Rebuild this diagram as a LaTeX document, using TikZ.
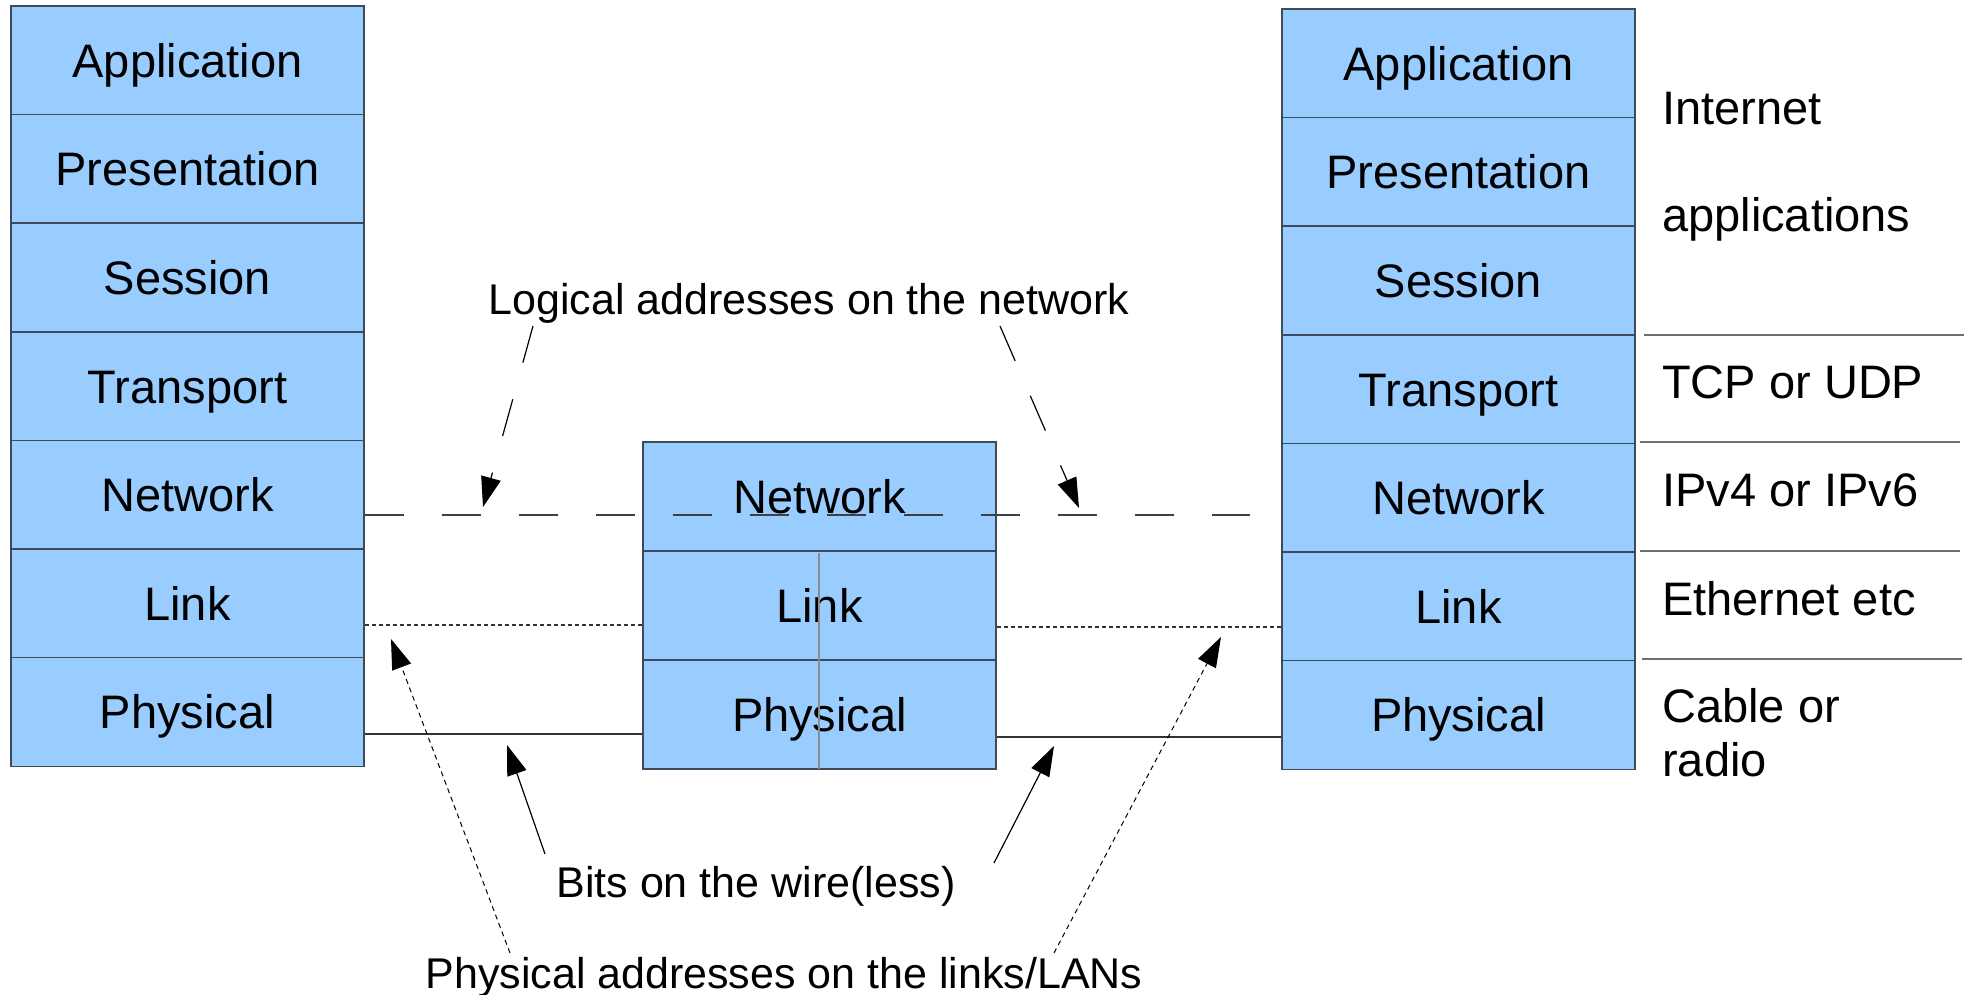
\documentclass[tikz,border=0pt]{standalone}
\usepackage{fontspec}
\setmainfont{Liberation Sans}
\usetikzlibrary{arrows.meta,calc}
\definecolor{layerfill}{HTML}{99CCFF}
\definecolor{layerdraw}{HTML}{3F4A58}
\definecolor{sepgray}{HTML}{707070}
\begin{document}
\begin{tikzpicture}[x=1pt,y=-1pt,
  layer/.style={draw=layerdraw,fill=layerfill,line width=1.4pt,minimum width=353pt,minimum height=108.6pt,inner sep=0pt,text height=34pt,text depth=0pt,font=\fontsize{47}{56}\selectfont},
  midlayer/.style={layer,minimum height=109pt},
  ann/.style={font=\fontsize{43}{52}\selectfont,inner sep=0pt,text height=31pt,text depth=0pt},
  side/.style={font=\fontsize{47}{56}\selectfont,anchor=west,inner sep=0pt,text height=34pt,text depth=0pt},
  sepline/.style={draw=sepgray,line width=1.5pt},
  tip/.style={-{Triangle[length=30pt,width=20pt]}},
  netline/.style={draw=black!75,line width=1.4pt,dash pattern=on 39pt off 38pt},
  linkline/.style={draw=black!80,line width=1.1pt,dash pattern=on 4pt off 3pt},
  physline/.style={draw=black!80,line width=1.4pt},
]
\useasboundingbox (0,0) rectangle (1973,995);

% left stack
\node[layer] (L1) at (187.5,60.3) {Application};
\node[layer] (L2) at (187.5,168.9) {Presentation};
\node[layer] (L3) at (187.5,277.5) {Session};
\node[layer] (L4) at (187.5,386.1) {Transport};
\node[layer] (L5) at (187.5,494.7) {Network};
\node[layer] (L6) at (187.5,603.3) {Link};
\node[layer] (L7) at (187.5,711.9) {Physical};

% middle stack
\node[midlayer] (M1) at (819.5,496.5) {Network};
\node[midlayer] (M2) at (819.5,605.5) {Link};
\node[midlayer] (M3) at (819.5,714.5) {Physical};
\draw[draw=black!45,line width=1.3pt] (819,553) -- (819,769);

% right stack
\node[layer] (R1) at (1458.5,63.3) {Application};
\node[layer] (R2) at (1458.5,171.9) {Presentation};
\node[layer] (R3) at (1458.5,280.5) {Session};
\node[layer] (R4) at (1458.5,389.1) {Transport};
\node[layer] (R5) at (1458.5,497.7) {Network};
\node[layer] (R6) at (1458.5,606.3) {Link};
\node[layer] (R7) at (1458.5,714.9) {Physical};

% right side labels
\node[side] (s1) at (1662,108) {Internet};
\node[side] (s2) at (1662,215) {applications};
\node[side] (s3) at (1662,381) {TCP or UDP};
\node[side] (s4) at (1662,489) {IPv4 or IPv6};
\node[side] (s5) at (1662,598) {Ethernet etc};
\node[side] (s6) at (1662,705) {Cable or};
\node[side] (s7) at (1662,759) {radio};
\draw[sepline] (1644,335) -- (1964,335);
\draw[sepline] (1640,442) -- (1960,442);
\draw[sepline] (1640,551) -- (1960,551);
\draw[sepline] (1642,659) -- (1962,659);

% horizontal peer lines
\coordinate (netY) at (0,515);
\coordinate (netEnd) at (1250,515);
\draw[netline] (L5.east |- netY) -- (netEnd);
\coordinate (linkYL) at (0,625);
\coordinate (linkYR) at (0,627);
\draw[linkline] (L6.east |- linkYL) -- (M2.west |- linkYL);
\draw[linkline] (M2.east |- linkYR) -- (R6.west |- linkYR);
\coordinate (physYL) at (0,734);
\coordinate (physYR) at (0,737);
\draw[physline] (L7.east |- physYL) -- (M3.west |- physYL);
\draw[physline] (M3.east |- physYR) -- (R7.west |- physYR);

% annotations
\node[ann] (logtxt) at (809,299) {Logical addresses on the network};
\node[ann] (bitstxt) at (756,882) {Bits on the wire(less)};
\node[ann] (phystxt) at (784,973) {Physical addresses on the links/LANs};

\coordinate (la1) at (533,326);
\coordinate (la1t) at (483,507);
\coordinate (la2) at (1000,326);
\coordinate (la2t) at (1079,508);
\draw[tip,line width=1.2pt,dash pattern=on 38pt off 38pt] (la1) -- (la1t);
\draw[tip,line width=1.2pt,dash pattern=on 38pt off 38pt] (la2) -- (la2t);

\coordinate (b1) at (545,854);
\coordinate (b1t) at (507,745);
\coordinate (b2) at (994,863);
\coordinate (b2t) at (1054,746);
\draw[tip,line width=1.2pt] (b1) -- (b1t);
\draw[tip,line width=1.2pt] (b2) -- (b2t);

\coordinate (p1) at (510,953);
\coordinate (p1t) at (391,639);
\coordinate (p2) at (1054,953);
\coordinate (p2t) at (1221,637);
\draw[tip,line width=1pt,dash pattern=on 5pt off 4pt] (p1) -- (p1t);
\draw[tip,line width=1pt,dash pattern=on 5pt off 4pt] (p2) -- (p2t);
\end{tikzpicture}
\end{document}
